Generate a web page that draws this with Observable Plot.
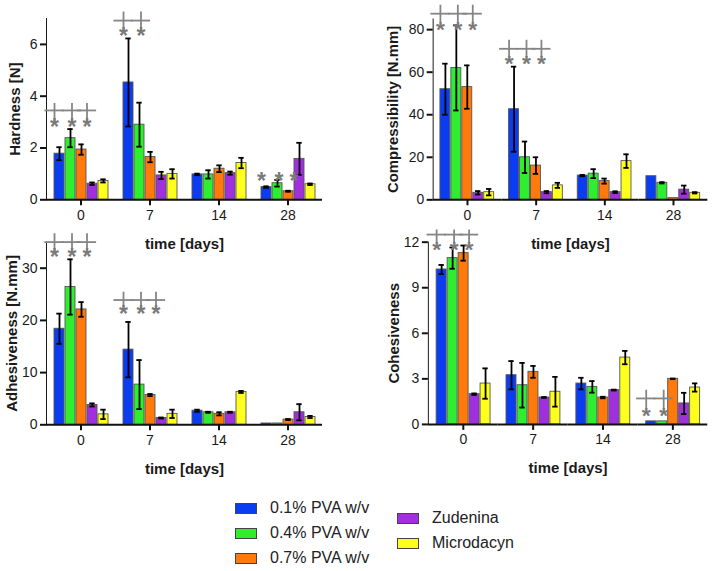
<!DOCTYPE html>
<html><head><meta charset="utf-8">
<script src="https://cdn.jsdelivr.net/npm/d3@7"></script>
<script src="https://cdn.jsdelivr.net/npm/@observablehq/plot@0.6"></script>
<style>
body{margin:0;background:#fff;width:713px;height:571px;position:relative;overflow:hidden;font-family:"Liberation Sans",Arial,Helvetica,sans-serif;}
.panel{position:absolute;}
.panel svg{overflow:visible;}
.panel g[aria-label$="-axis label"] text, .panel g[aria-label$="-axis label"]{font-weight:bold;font-size:15px;}
.panel g[aria-label^="y-axis"] path, .panel g[aria-label^="y-axis"] line,
.panel g[aria-label^="fx-axis"] path, .panel g[aria-label^="fx-axis"] line{stroke-width:2;stroke:#111;}
.leg{position:absolute;display:flex;align-items:center;font-size:16px;color:#222;white-space:nowrap;}
.sw{width:20px;height:9px;border:1px solid #444;margin-right:13px;}
</style></head><body>
<div id="p1" class="panel" style="left:0;top:0"></div>
<div id="p2" class="panel" style="left:360px;top:0"></div>
<div id="p3" class="panel" style="left:0;top:230px"></div>
<div id="p4" class="panel" style="left:360px;top:230px"></div>
<div id="legend"></div>
<script>
// ---------- data ----------
const days = ["0", "7", "14", "28"];
const series = ["0.1% PVA w/v", "0.4% PVA w/v", "0.7% PVA w/v", "Zudenina", "Microdacyn"];
const colors = ["#0a3cf2", "#2fee2f", "#ff7a0a", "#a030de", "#ffff1e"];

// rows = days, columns = series
const hardnessMean = [[1.78, 2.38, 1.94, 0.62, 0.73], [4.53, 2.90, 1.65, 0.94, 1.00], [0.98, 0.98, 1.20, 1.03, 1.42], [0.49, 0.64, 0.33, 1.58, 0.60]];
const hardnessErr  = [[0.25, 0.35, 0.20, 0.05, 0.06], [1.70, 0.85, 0.20, 0.14, 0.18], [0.03, 0.16, 0.13, 0.06, 0.20], [0.03, 0.13, 0.02, 0.62, 0.03]];

const compressMean = [[52.0, 62.0, 53.0, 3.3, 3.6], [42.6, 20.0, 16.1, 3.6, 6.8], [11.4, 12.3, 8.8, 3.6, 18.2], [11.1, 8.0, 0.8, 4.8, 3.3]];
const compressErr  = [[12.0, 20.0, 10.2, 0.8, 1.5], [20.0, 7.4, 3.9, 0.5, 1.2], [0.3, 2.1, 1.2, 0.4, 3.2], [0, 0.3, 0, 1.9, 0.3]];

const adhesMean = [[18.4, 26.4, 22.1, 3.8, 2.0], [14.4, 7.7, 5.7, 1.3, 2.1], [2.7, 2.4, 2.1, 2.4, 6.3], [0.25, 0.25, 1.0, 2.4, 1.5]];
const adhesErr  = [[2.9, 5.3, 1.4, 0.3, 0.9], [5.3, 4.7, 0.2, 0.1, 0.8], [0.2, 0.1, 0.3, 0.1, 0.2], [0, 0, 0.1, 1.55, 0.2]];

const cohesMean = [[10.2, 10.95, 11.28, 1.99, 2.69], [3.24, 2.58, 3.46, 1.77, 2.15], [2.69, 2.47, 1.77, 2.26, 4.40], [0.20, 0.20, 3.00, 1.38, 2.43]];
const cohesErr  = [[0.3, 0.7, 0.5, 0.05, 1.0], [0.93, 1.47, 0.39, 0.03, 0.98], [0.38, 0.38, 0.05, 0.03, 0.44], [0, 0, 0.02, 0.7, 0.27]];

// significance marks: day, series indices, dagger top / cross-bar / star level
const hardnessSig = [
  {day: "0", groups: [0, 1, 2], top: 3.72, bar: 3.45, star: 3.02, dagger: true},
  {day: "7", groups: [0, 1], top: 7.25, bar: 6.92, star: 6.52, dagger: true},
  {day: "28", groups: [0, 1, 2], star: 0.94, dagger: false}
];
const compressSig = [
  {day: "0", groups: [0, 1, 2], top: 91.5, bar: 87.5, star: 83.0, dagger: true},
  {day: "7", groups: [0, 1, 2], top: 75.0, bar: 71.0, star: 66.8, dagger: true}
];
const adhesSig = [
  {day: "0", groups: [0, 1, 2], top: 36.6, bar: 35.0, star: 33.2, dagger: true},
  {day: "7", groups: [0, 1, 2], top: 25.4, bar: 23.9, star: 22.2, dagger: true}
];
const cohesSig = [
  {day: "0", groups: [0, 1, 2], top: 12.8, bar: 12.5, star: 11.9, dagger: true},
  {day: "28", groups: [0, 1], top: 2.25, bar: 1.71, star: 1.0, dagger: true}
];

// ---------- drawing ----------
const fontFamily = '"Liberation Sans", Arial, Helvetica, sans-serif';
const sigOffsets = [-5, 1.5, 5.5];

function rowsOf(means, errs) {
  const out = [];
  days.forEach((d, i) => series.forEach((s, j) => out.push({day: d, series: s, value: means[i][j], err: errs[i][j]})));
  return out;
}
function sigRowsOf(sig) {
  const out = [];
  sig.forEach(s => s.groups.forEach(k => out.push({...s, idx: k, series: series[k]})));
  return out;
}

function panel(cfg) {
  const H = 255;
  const rows = rowsOf(cfg.means, cfg.errs);
  const withErr = rows.filter(d => d.err > 0);
  const sigRows = sigRowsOf(cfg.sig);
  const W = cfg.marginLeft + 4 * cfg.step + 6;
  const gray = "#858585";
  const marks = [
    Plot.barY(rows, {fx: "day", x: "series", y: "value", fill: "series", stroke: "#555", strokeWidth: 0.9}),
    Plot.ruleX(withErr, {fx: "day", x: "series", y1: d => d.value - d.err, y2: d => d.value + d.err, stroke: "#000", strokeWidth: 1.8}),
    Plot.tickY(withErr, {fx: "day", x: "series", y: d => d.value + d.err, stroke: "#000", strokeWidth: 1.8, insetLeft: 2.3, insetRight: 2.3}),
    Plot.tickY(withErr, {fx: "day", x: "series", y: d => d.value - d.err, stroke: "#000", strokeWidth: 1.8, insetLeft: 2.3, insetRight: 2.3}),
    Plot.ruleY([0], {stroke: "#111", strokeWidth: 2})
  ];
  [0, 1, 2].forEach(k => {
    const sub = sigRows.filter(r => r.idx === k);
    const dag = sub.filter(r => r.dagger);
    marks.push(
      Plot.ruleX(dag, {fx: "day", x: "series", y1: "top", y2: "star", stroke: gray, strokeWidth: 1.8, dx: sigOffsets[k]}),
      Plot.tickY(dag, {fx: "day", x: "series", y: "bar", stroke: gray, strokeWidth: 1.8, dx: sigOffsets[k], insetLeft: -4.6, insetRight: -4.6}),
      Plot.text(sub, {fx: "day", x: "series", y: "star", text: () => "*", fontSize: 23, fontWeight: "bold", fill: "#7a7a7a", dx: sigOffsets[k], dy: 6})
    );
  });
  const chart = Plot.plot({
    width: W, height: H,
    marginLeft: cfg.marginLeft, marginRight: W - cfg.marginLeft - 4 * cfg.step,
    marginTop: cfg.topPx, marginBottom: H - cfg.bottom,
    style: {fontFamily, fontSize: "14px", color: "#1a1a1a", background: "transparent", overflow: "visible"},
    fx: {domain: days, padding: 0, label: "time [days]", labelAnchor: "center", labelArrow: "none", labelOffset: 49, tickSize: 6, tickPadding: 4},
    x: {domain: series, axis: null, paddingInner: 0.12, paddingOuter: 0.68},
    y: {domain: cfg.domain, ticks: cfg.ticks, tickFormat: d3.format("d"), label: cfg.label, labelAnchor: "center", labelArrow: "none", labelOffset: cfg.labelOffset, tickSize: 6, tickPadding: 3, line: true},
    color: {domain: series, range: colors},
    marks
  });
  document.getElementById(cfg.el).appendChild(chart);
}

panel({el: "p1", means: hardnessMean, errs: hardnessErr, sig: hardnessSig, label: "Hardness [N]", domain: [0, 7], ticks: [0, 2, 4, 6],
  marginLeft: 46, step: 69, topPx: 18, bottom: 199.3, labelOffset: 37});
panel({el: "p2", means: compressMean, errs: compressErr, sig: compressSig, label: "Compressibility [N.mm]", domain: [0, 85], ticks: [0, 20, 40, 60, 80],
  marginLeft: 72.7, step: 69, topPx: 18.6, bottom: 200.3, labelOffset: 46});
panel({el: "p3", means: adhesMean, errs: adhesErr, sig: adhesSig, label: "Adhesiveness [N.mm]", domain: [0, 35], ticks: [0, 10, 20, 30],
  marginLeft: 46, step: 69, topPx: 11.6, bottom: 194.3, labelOffset: 40});
panel({el: "p4", means: cohesMean, errs: cohesErr, sig: cohesSig, label: "Cohesiveness", domain: [0, 12], ticks: [0, 3, 6, 9, 12],
  marginLeft: 67.7, step: 70, topPx: 11.7, bottom: 194.3, labelOffset: 40});

// ---------- legend ----------
const legend = document.getElementById("legend");
const legendPos = [[235, 508], [235, 533], [235, 558], [397, 518], [397, 543]];
series.forEach((s, i) => {
  const item = document.createElement("div");
  item.className = "leg";
  item.style.left = legendPos[i][0] + "px";
  item.style.top = (legendPos[i][1] - 10) + "px";
  item.style.height = "20px";
  const sw = document.createElement("div");
  sw.className = "sw";
  sw.style.background = colors[i];
  item.appendChild(sw);
  item.appendChild(document.createTextNode(s));
  legend.appendChild(item);
});
</script>
</body></html>
